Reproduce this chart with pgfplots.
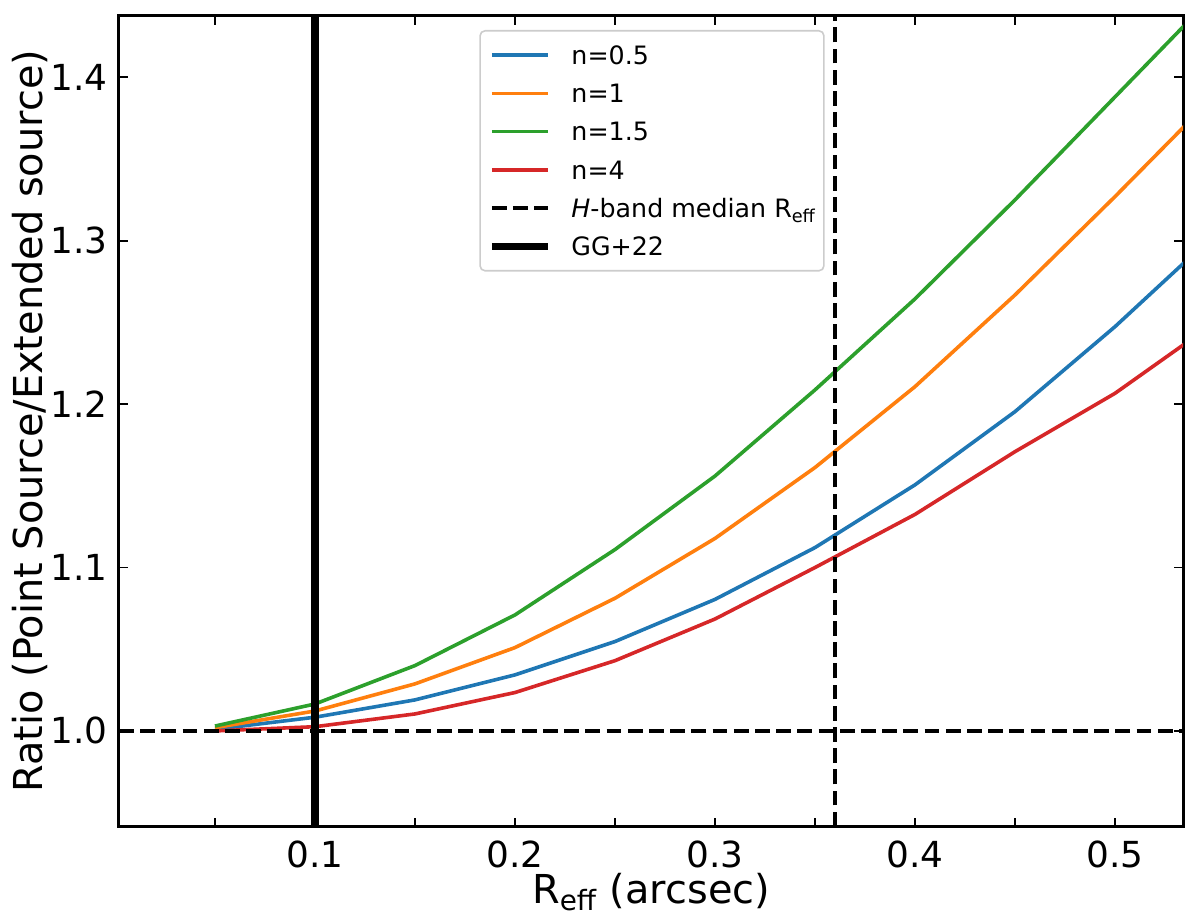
\documentclass[border=0pt]{standalone}
\usepackage{pgfplots}
\pgfplotsset{compat=1.18}
\usepackage{fontspec}
\setmainfont{DejaVu Sans}
\definecolor{tabblue}{HTML}{1F77B4}
\definecolor{taborange}{HTML}{FF7F0E}
\definecolor{tabgreen}{HTML}{2CA02C}
\definecolor{tabred}{HTML}{D62728}
\begin{document}
\begin{tikzpicture}
\begin{axis}[
  at={(0,0)}, anchor=south west,
  scale only axis, width=532bp, height=405.5bp,
  xmin=0.002, xmax=0.534, ymin=0.9414, ymax=1.4377,
  xtick={0.1,0.2,0.3,0.4,0.5},
  minor xtick={0.05,0.15,0.25,0.35,0.45},
  ytick={1.0,1.1,1.2,1.3,1.4},
  tick align=inside,
  major tick length=4.5bp, minor tick length=4.5bp,
  every tick/.style={black, line width=0.8bp},
  axis line style={line width=1.5bp},
  /pgf/number format/assume math mode=true,
  ticklabel style={font=\fontsize{18}{21}\selectfont},
  xticklabel style={inner sep=0pt, yshift=-6.7bp, /pgf/number format/.cd, fixed, fixed zerofill, precision=1},
  yticklabel style={inner sep=0pt, xshift=-5.5bp, /pgf/number format/.cd, fixed, fixed zerofill, precision=1},
  xlabel={R\textsubscript{eff} (arcsec)},
  xlabel style={font=\fontsize{20}{24}\selectfont, at={(axis description cs:0.5,0)}, anchor=north, inner sep=0pt, yshift=-23bp},
  ylabel={Ratio (Point Source/Extended source)},
  ylabel style={font=\fontsize{20}{24}\selectfont, at={(axis description cs:-0.0667,0.5)}, anchor=south, inner sep=0pt},
  legend cell align=left,
  legend image code/.code={\draw[#1] (0bp,0bp) -- (28bp,0bp);},
  legend style={at={(axis description cs:0.3386,0.98237)}, anchor=north west,
    draw=black!20, line width=0.8bp, rounded corners=2.5bp, fill=white,
    inner xsep=4bp, inner ysep=2.7bp, font=\fontsize{12.7}{15}\selectfont,
    row sep=0pt, column sep=10bp,
    nodes={inner sep=0pt, text height=14.19bp, text depth=4.91bp}},
  every axis plot/.append style={line join=round},
]
\addplot[color=tabblue, line width=1.8bp] coordinates {
 (0.05,1.001) (0.10,1.0084) (0.15,1.019) (0.20,1.0343) (0.25,1.0547) (0.30,1.0805)
 (0.35,1.1122) (0.40,1.1506) (0.45,1.1954) (0.50,1.2474) (0.55,1.304)};
\addlegendentry{n=0.5}
\addplot[color=taborange, line width=1.8bp] coordinates {
 (0.05,1.002) (0.10,1.0122) (0.15,1.0288) (0.20,1.051) (0.25,1.0812) (0.30,1.1178)
 (0.35,1.1612) (0.40,1.2107) (0.45,1.2668) (0.50,1.327) (0.55,1.389)};
\addlegendentry{n=1}
\addplot[color=tabgreen, line width=1.8bp] coordinates {
 (0.05,1.003) (0.10,1.0165) (0.15,1.040) (0.20,1.071) (0.25,1.111) (0.30,1.156)
 (0.35,1.2087) (0.40,1.2644) (0.45,1.325) (0.50,1.388) (0.55,1.451)};
\addlegendentry{n=1.5}
\addplot[color=tabred, line width=1.8bp] coordinates {
 (0.05,1.000) (0.10,1.0026) (0.15,1.0104) (0.20,1.0235) (0.25,1.043) (0.30,1.0685)
 (0.35,1.100) (0.40,1.1325) (0.45,1.1709) (0.50,1.2066) (0.55,1.250)};
\addlegendentry{n=4}
\addplot[black, line width=2bp, dash pattern=on 7.4bp off 3.2bp] coordinates {(0.36,0.9414) (0.36,1.4377)};
\addlegendentry{\textit{H}-band median R\textsubscript{eff}}
\addplot[black, line width=3.7bp] coordinates {(0.1,0.9) (0.1,1.5)};
\addlegendentry{GG+22}
\addplot[black, line width=2bp, dash pattern=on 7.4bp off 3.2bp, forget plot] coordinates {(0.002,1) (0.534,1)};
\end{axis}
\path (-59.5bp,-48.15bp) rectangle (540.5bp,413.35bp);
\end{tikzpicture}
\end{document}
